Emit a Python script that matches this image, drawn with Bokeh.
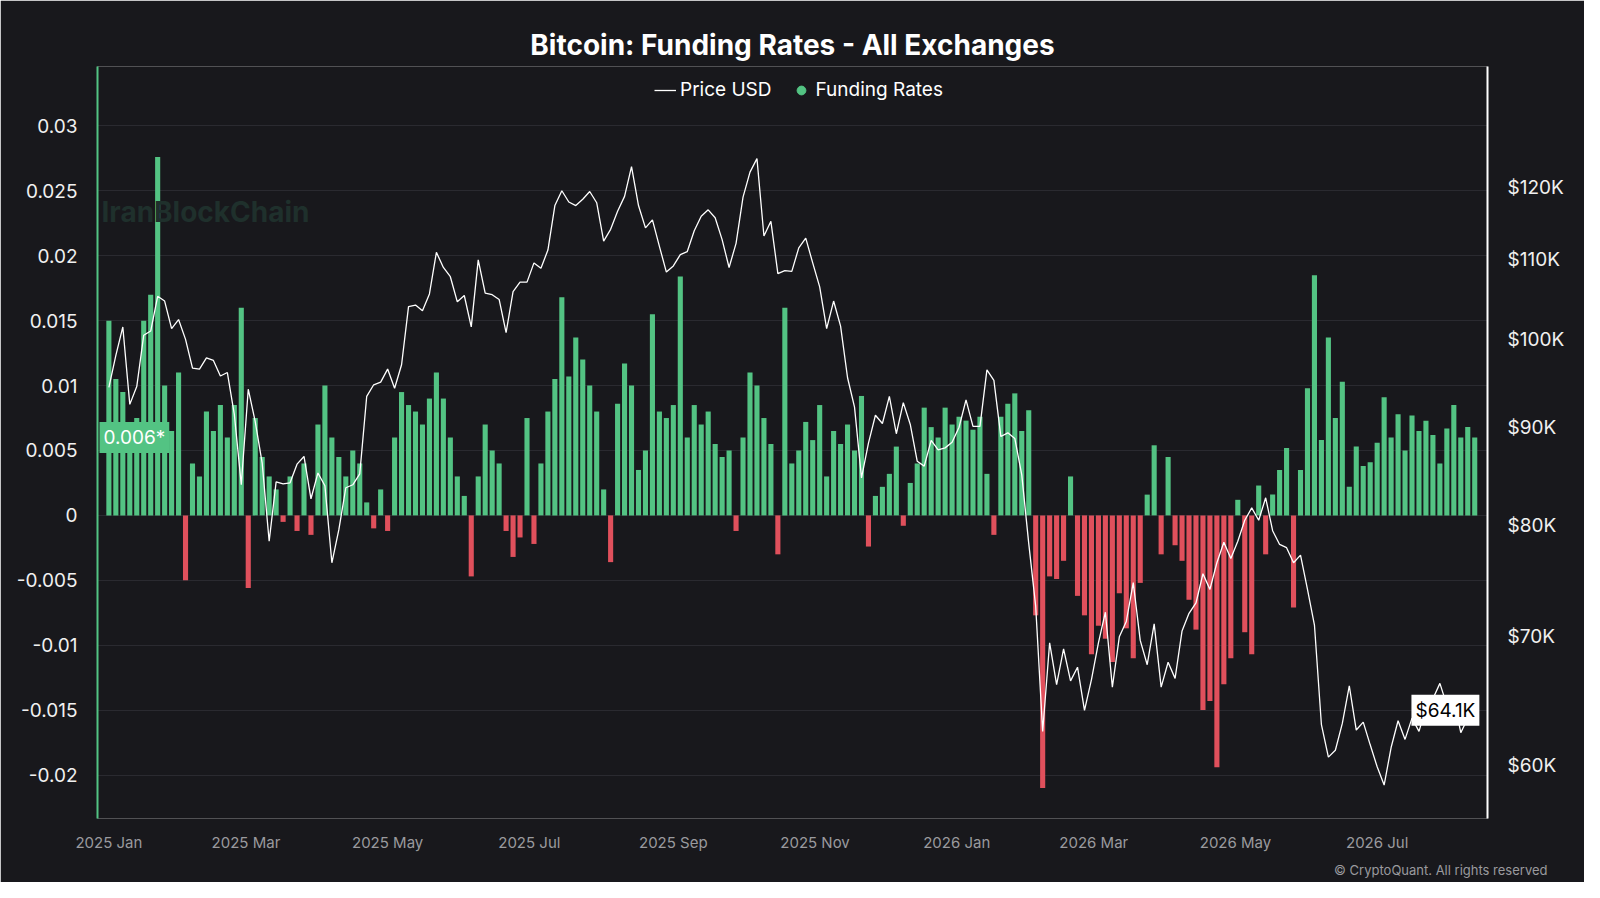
import pandas as pd
from bokeh.plotting import figure
from bokeh.models import (Range1d, LogAxis, LinearAxis, LogScale, FixedTicker, MonthsTicker,
                          DatetimeTickFormatter, Label, Legend, LegendItem, ColumnDataSource, Title)
from bokeh.embed import file_html
from bokeh.resources import INLINE

start_date = "2025-01-01"
step_days = 3

price_k = [
 94.4, 98.1, 101.5, 92.5, 94.5, 100.5, 101.0, 105.3, 104.7, 101.3, 102.4,
 100.0, 96.6, 96.5, 97.8, 97.5, 95.7, 96.1, 91.4, 84.0,
 94.2, 90.6, 86.2, 78.5, 84.3, 84.1, 84.2, 86.1, 86.9, 82.6,
 85.2, 83.9, 76.5, 79.6, 83.7, 84.0, 85.1, 93.4, 94.7, 95.0,
 96.5, 94.3, 97.0, 104.0, 104.2, 103.5, 105.6, 111.0, 109.0, 107.8, 104.6,
 105.4, 101.5, 110.0, 105.7, 105.5, 104.9, 100.8, 105.9, 107.1, 107.1,
 109.6, 108.9, 111.3, 117.4, 119.5, 117.9, 117.4, 118.3, 119.4, 117.8,
 112.5, 114.1, 116.6, 118.7, 123.0, 117.4, 114.3, 115.4, 111.8, 108.4,
 109.2, 110.7, 111.1, 113.9, 115.9, 116.8, 115.7, 112.7, 109.0, 112.2,
 118.6, 122.2, 124.2, 113.2, 115.2, 108.2, 108.6, 108.5, 111.6, 112.9, 109.6,
 106.5, 101.3, 104.7, 101.6, 95.5, 92.2, 84.7, 88.3, 91.3, 90.4,
 93.4, 89.3, 92.7, 90.3, 86.4, 85.9, 88.6, 87.6, 87.8, 88.4,
 90.0, 93.0, 90.1, 90.1, 96.4, 95.2, 89.0, 89.4, 88.8, 85.0,
 78.3, 72.6, 62.5, 69.5, 66.1, 69.0, 66.4, 67.5, 64.1, 66.5,
 69.5, 72.1, 65.9, 70.0, 71.3, 74.7, 69.7, 67.7, 71.1, 65.9,
 67.9, 66.6, 70.5, 72.0, 72.9, 75.5, 74.1, 76.5, 78.4, 76.9,
 78.5, 80.5, 81.7, 80.5, 82.7, 79.5, 78.2, 77.9, 76.5, 77.2,
 74.1, 71.0, 63.0, 60.6, 61.1, 63.1, 66.0, 62.6, 63.2, 61.5,
 59.9, 58.6, 61.3, 63.3, 61.9, 63.5, 62.5, 64.3, 65.0, 66.2,
 64.5, 65.0, 62.4, 63.5, 64.1,
]

funding = [
 0.0150, 0.0105, 0.0095, 0.0050, 0.0075, 0.0150, 0.0170, 0.0276, 0.0100, 0.0065,
 0.0110, -0.0050, 0.0040, 0.0030, 0.0080, 0.0065, 0.0085, 0.0060, 0.0085, 0.0160,
 -0.0056, 0.0075, 0.0045, 0.0030, 0.0020, -0.0005, 0.0030, -0.0012, 0.0040, -0.0015,
 0.0070, 0.0100, 0.0060, 0.0045, 0.0030, 0.0050, 0.0040, 0.0010, -0.0010, 0.0020,
 -0.0012, 0.0060, 0.0095, 0.0085, 0.0080, 0.0070, 0.0090, 0.0110, 0.0090, 0.0060,
 0.0030, 0.0015, -0.0047, 0.0030, 0.0070, 0.0050, 0.0040, -0.0012, -0.0032, -0.0017,
 0.0075, -0.0022, 0.0040, 0.0080, 0.0105, 0.0168, 0.0107, 0.0137, 0.0120, 0.0100,
 0.0080, 0.0020, -0.0036, 0.0086, 0.0117, 0.0100, 0.0035, 0.0050, 0.0155, 0.0080,
 0.0075, 0.0085, 0.0184, 0.0060, 0.0085, 0.0070, 0.0080, 0.0055, 0.0045, 0.0050,
 -0.0012, 0.0060, 0.0110, 0.0100, 0.0075, 0.0055, -0.0030, 0.0160, 0.0040, 0.0050,
 0.0072, 0.0058, 0.0085, 0.0030, 0.0065, 0.0055, 0.0070, 0.0050, 0.0092, -0.0024,
 0.0015, 0.0022, 0.0032, 0.0053, -0.0008, 0.0025, 0.0040, 0.0083, 0.0068, 0.0060,
 0.0083, 0.0070,
 0.0076, 0.0073, 0.0066, 0.0076, 0.0032, -0.0015, 0.0076, 0.0086, 0.0094, 0.0065,
 0.0081, -0.0077, -0.0210, -0.0047, -0.0049, -0.0035, 0.0030, -0.0062, -0.0077, -0.0107,
 -0.0085, -0.0095, -0.0113, -0.0060, -0.0087, -0.0110, -0.0052, 0.0016, 0.0054, -0.0030,
 0.0045, -0.0023, -0.0035, -0.0065, -0.0088, -0.0150, -0.0143, -0.0194, -0.0130, -0.0110,
 0.0012, -0.0090, -0.0107, 0.0023, -0.0030, 0.0016, 0.0035, 0.0052, -0.0071, 0.0035,
 0.0098, 0.0185, 0.0058, 0.0137, 0.0075, 0.0103, 0.0022, 0.0053, 0.0038, 0.0041,
 0.0056, 0.0091, 0.0060, 0.0078, 0.0050, 0.0077, 0.0065, 0.0073, 0.0062, 0.0040,
 0.0067, 0.0085, 0.0060, 0.0068, 0.0060,
]

left_ticks = [0.03, 0.025, 0.02, 0.015, 0.01, 0.005, 0, -0.005, -0.01, -0.015, -0.02]
left_tick_labels = ["0.03", "0.025", "0.02", "0.015", "0.01", "0.005", "0", "-0.005", "-0.01", "-0.015", "-0.02"]
right_ticks = [60000, 70000, 80000, 90000, 100000, 110000, 120000]
right_tick_labels = ["$60K", "$70K", "$80K", "$90K", "$100K", "$110K", "$120K"]
last_funding_tag = 0.006
last_price_tag = 64100

BG = "#18181c"
GREEN = "#53c383"
RED = "#e0505c"

t0 = pd.Timestamp(start_date)
dates_p = [t0 + pd.Timedelta(days=step_days * i) for i in range(len(price_k))]
dates_f = [t0 + pd.Timedelta(days=step_days * i) for i in range(len(funding))]
colors = [GREEN if v >= 0 else RED for v in funding]
fsrc = ColumnDataSource(dict(x=dates_f, top=funding, c=colors))
psrc = ColumnDataSource(dict(x=dates_p, y=[v * 1000 for v in price_k]))

xr = Range1d(t0 - pd.Timedelta(days=4.9), t0 + pd.Timedelta(days=593.5))
p = figure(width=1584, height=882, x_axis_type="datetime", x_range=xr,
           y_range=Range1d(-0.02335, 0.03458), output_backend="svg", toolbar_location=None,
           background_fill_color=BG, border_fill_color=BG,
           min_border_left=97, min_border_right=97, min_border_top=66, min_border_bottom=62)
p.outline_line_color = None
p.extra_y_ranges = {"price": Range1d(56300, 138700)}
p.extra_y_scales = {"price": LogScale()}

p.vbar(x="x", top="top", bottom=0, width=pd.Timedelta(days=2.2), fill_color="c",
       line_color=None, source=fsrc)
fund_leg = p.scatter(x=[t0 - pd.Timedelta(days=100)], y=[1.0], size=22, color=GREEN)
pr = p.line(x="x", y="y", source=psrc, line_color="white", line_width=1.3, y_range_name="price")

def style_y(ax):
    ax.major_tick_line_color = None
    ax.minor_tick_line_color = None
    ax.major_label_text_color = "#f0f0f0"
    ax.major_label_text_font = "Inter"
    ax.major_label_text_font_size = "19px"
    ax.major_label_standoff = 14

ya = p.yaxis[0]
ya.ticker = FixedTicker(ticks=left_ticks)
ya.major_label_overrides = {t: l for t, l in zip(left_ticks, left_tick_labels)}
ya.axis_line_color = GREEN
ya.axis_line_width = 2
style_y(ya)

ra = LogAxis(y_range_name="price", ticker=FixedTicker(ticks=right_ticks))
ra.major_label_overrides = {t: l for t, l in zip(right_ticks, right_tick_labels)}
ra.axis_line_color = "white"
ra.axis_line_width = 2
style_y(ra)
p.add_layout(ra, "right")

xa = p.xaxis[0]
xa.ticker = MonthsTicker(months=[0, 2, 4, 6, 8, 10])
xa.formatter = DatetimeTickFormatter(months="%Y %b", days="%Y %b", years="%Y %b")
xa.axis_line_color = None
xa.major_tick_line_color = None
xa.minor_tick_line_color = None
xa.major_label_text_color = "#9a9a9e"
xa.major_label_text_font = "Inter"
xa.major_label_text_font_size = "15px"
xa.major_label_standoff = 8

p.xgrid.grid_line_color = None
p.ygrid.grid_line_color = "#2a2a30"
p.ygrid.ticker = FixedTicker(ticks=left_ticks)

leg = Legend(items=[LegendItem(label="Price USD", renderers=[pr]),
                    LegendItem(label="Funding Rates", renderers=[fund_leg])],
             orientation="horizontal", location=(557, 717),
             background_fill_alpha=0, border_line_color=None,
             label_text_color="white", label_text_font="Inter", label_text_font_size="19px",
             glyph_width=22, glyph_height=22, spacing=18, margin=0, padding=0, label_standoff=4)
p.add_layout(leg, "center")

p.title = Title(text="Bitcoin: Funding Rates - All Exchanges", align="center",
                text_color="white", text_font="Inter", text_font_size="28px",
                text_font_style="bold", standoff=9)

p.add_layout(Title(text="© CryptoQuant. All rights reserved", align="right",
                   text_color="#9a9a9e", text_font="Inter", text_font_size="13px",
                   text_font_style="normal", offset=-60), "below")

p.add_layout(Label(x=4, y=590, x_units="screen", y_units="screen", text="IranBlockChain",
                   text_color="#1f302c", text_font="Inter", text_font_size="28px",
                   text_font_style="bold"))

p.add_layout(Label(x=t0 + pd.Timedelta(days=590), y=last_price_tag, y_range_name="price",
                   text="$64.1K", text_align="right", text_baseline="middle", text_color="black",
                   text_font="Inter", text_font_size="19px", background_fill_color="white",
                   x_offset=0, padding=4))
p.add_layout(Label(x=t0 - pd.Timedelta(days=4.9), y=last_funding_tag,
                   text="0.006*", text_align="left", text_baseline="middle", text_color="white",
                   text_font="Inter", text_font_size="19px", background_fill_color=GREEN,
                   x_offset=2, padding=4))

open("out.html", "w").write(file_html(p, INLINE))
